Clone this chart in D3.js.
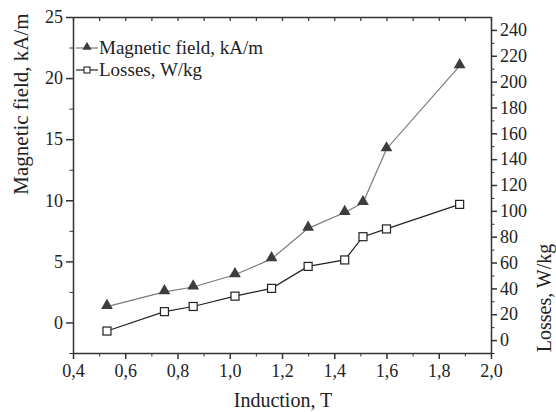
<!DOCTYPE html>
<html>
<head>
<meta charset="utf-8">
<script src="https://cdn.jsdelivr.net/npm/d3@7"></script>
<style>
  body { margin: 0; background: #fff; }
  svg { display: block; font-family: "Liberation Serif", "Times New Roman", serif; }
  .axis path, .axis line { stroke: #333; }
  .axis text { fill: #222; font-size: 18px; font-family: "Liberation Serif", serif; }
</style>
</head>
<body>
<div id="chart"></div>
<script>
const induction = [0.53, 0.75, 0.86, 1.02, 1.16, 1.30, 1.44, 1.51, 1.60, 1.88];
const magneticField = [1.3, 2.5, 2.9, 3.9, 5.2, 7.7, 9.0, 9.8, 14.2, 21.0];
const losses = [7, 22, 26, 34, 40, 57, 62, 80, 86, 105];

const xTicks = [0.4, 0.6, 0.8, 1.0, 1.2, 1.4, 1.6, 1.8, 2.0];
const leftTicks = [0, 5, 10, 15, 20, 25];
const rightTicks = [0, 20, 40, 60, 80, 100, 120, 140, 160, 180, 200, 220, 240];

const width = 556, height = 412;
const plot = { left: 73, right: 491, top: 17, bottom: 353 };

const svg = d3.select("#chart").append("svg")
  .attr("width", width)
  .attr("height", height);

const x = d3.scaleLinear().domain([0.4, 2.0]).range([plot.left, plot.right]);
const yLeft = d3.scaleLinear().domain([-2.5, 25]).range([plot.bottom, plot.top]);
const yRight = d3.scaleLinear().domain([-10, 250]).range([plot.bottom, plot.top]);

const commaFmt = d => d3.format(".1f")(d).replace(".", ",");

// minor ticks first, so the major axes draw over them
const minorX = d3.range(0.5, 2.0, 0.2);
const minorLeft = d3.range(-2.5, 25, 5);
const minorRight = d3.range(-10, 250, 20);

function minor(axis, scale, values, size) {
  return axis(scale).tickValues(values).tickSize(size).tickFormat("");
}

svg.append("g").attr("class", "axis")
  .attr("transform", `translate(0,${plot.bottom})`)
  .call(minor(d3.axisBottom, x, minorX, 3.5))
  .select(".domain").remove();
svg.append("g").attr("class", "axis")
  .attr("transform", `translate(${plot.left},0)`)
  .call(minor(d3.axisLeft, yLeft, minorLeft, 3.5))
  .select(".domain").remove();
svg.append("g").attr("class", "axis")
  .attr("transform", `translate(${plot.right},0)`)
  .call(minor(d3.axisRight, yRight, minorRight, 3.5))
  .select(".domain").remove();
// top axis: ticks pointing inside
svg.append("g").attr("class", "axis")
  .attr("transform", `translate(0,${plot.top})`)
  .call(d3.axisTop(x).tickValues(d3.range(0.4, 2.01, 0.1)).tickSize(-4).tickSizeOuter(0).tickFormat(""))
  .call(g => g.selectAll(".tick line").attr("stroke-width", 1.2))
  .call(g => g.select(".domain").attr("stroke-width", 1.5));

svg.append("g").attr("class", "axis")
  .attr("transform", `translate(0,${plot.bottom})`)
  .call(d3.axisBottom(x).tickValues(xTicks).tickFormat(commaFmt).tickSize(6).tickSizeOuter(0).tickPadding(5))
  .call(g => g.selectAll("line, path").attr("stroke-width", 1.5));

svg.append("g").attr("class", "axis")
  .attr("transform", `translate(${plot.left},0)`)
  .call(d3.axisLeft(yLeft).tickValues(leftTicks).tickSize(7).tickSizeOuter(0).tickPadding(3))
  .call(g => g.selectAll("line, path").attr("stroke-width", 1.5));

svg.append("g").attr("class", "axis")
  .attr("transform", `translate(${plot.right},0)`)
  .call(d3.axisRight(yRight).tickValues(rightTicks).tickSize(6).tickSizeOuter(0).tickPadding(3))
  .call(g => g.selectAll("line, path").attr("stroke-width", 1.5));

// axis titles
svg.append("text")
  .attr("x", (plot.left + plot.right) / 2 + 1)
  .attr("y", 407)
  .attr("text-anchor", "middle")
  .attr("font-size", 20)
  .attr("fill", "#222")
  .text("Induction, T");

svg.append("text")
  .attr("transform", "translate(28,104) rotate(-90)")
  .attr("text-anchor", "middle")
  .attr("font-size", 21)
  .attr("fill", "#222")
  .text("Magnetic field, kA/m");

svg.append("text")
  .attr("transform", "translate(551,298) rotate(-90)")
  .attr("text-anchor", "middle")
  .attr("font-size", 20)
  .attr("fill", "#222")
  .text("Losses, W/kg");

// series
const magData = induction.map((d, i) => [d, magneticField[i]]);
const lossData = induction.map((d, i) => [d, losses[i]]);

svg.append("path")
  .datum(magData)
  .attr("fill", "none")
  .attr("stroke", "#7a7a7a")
  .attr("stroke-width", 1.2)
  .attr("d", d3.line().x(d => x(d[0])).y(d => yLeft(d[1])));

svg.append("path")
  .datum(lossData)
  .attr("fill", "none")
  .attr("stroke", "#222")
  .attr("stroke-width", 1.2)
  .attr("d", d3.line().x(d => x(d[0])).y(d => yRight(d[1])));

const tri = d3.symbol().type(d3.symbolTriangle).size(60);
svg.append("g").selectAll("path")
  .data(magData)
  .join("path")
  .attr("transform", d => `translate(${x(d[0])},${yLeft(d[1]) - 1})`)
  .attr("d", tri)
  .attr("fill", "#3d3d3d");

svg.append("g").selectAll("rect")
  .data(lossData)
  .join("rect")
  .attr("x", d => x(d[0]) - 4)
  .attr("y", d => yRight(d[1]) - 4)
  .attr("width", 8)
  .attr("height", 8)
  .attr("fill", "#fff")
  .attr("stroke", "#222")
  .attr("stroke-width", 1.2);

// legend
const legend = svg.append("g").attr("transform", "translate(76,0)");
const rowY = [48, 70];
const symTri = d3.symbol().type(d3.symbolTriangle).size(36);
legend.append("line").attr("x1", 0).attr("x2", 22).attr("y1", rowY[0]).attr("y2", rowY[0])
  .attr("stroke", "#7a7a7a").attr("stroke-width", 1.2);
legend.append("path").attr("transform", `translate(11,${rowY[0] - 1})`).attr("d", symTri).attr("fill", "#3d3d3d");
legend.append("text").attr("x", 23).attr("y", rowY[0] + 6).attr("font-size", 19).attr("fill", "#222")
  .text("Magnetic field, kA/m");

legend.append("line").attr("x1", 0).attr("x2", 22).attr("y1", rowY[1]).attr("y2", rowY[1])
  .attr("stroke", "#222").attr("stroke-width", 1.2);
legend.append("rect").attr("x", 8).attr("y", rowY[1] - 3).attr("width", 6).attr("height", 6)
  .attr("fill", "#fff").attr("stroke", "#222").attr("stroke-width", 1.1);
legend.append("text").attr("x", 23).attr("y", rowY[1] + 6).attr("font-size", 19).attr("fill", "#222")
  .text("Losses, W/kg");
</script>
</body>
</html>
